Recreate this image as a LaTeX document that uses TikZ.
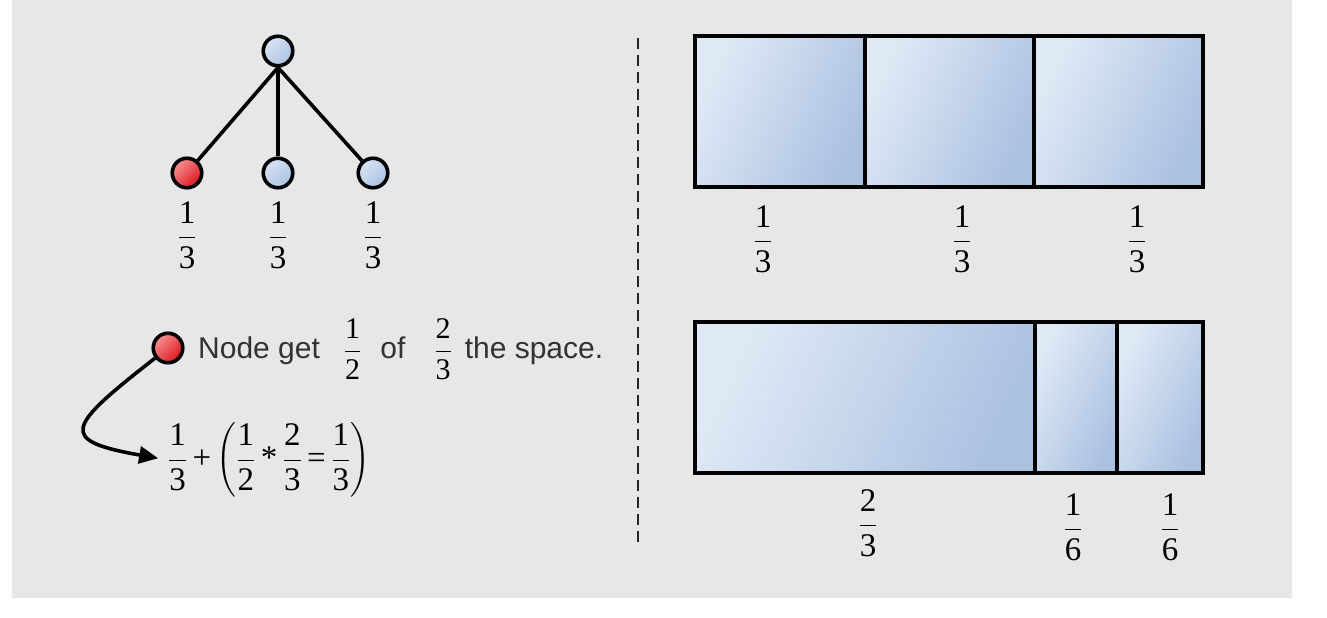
\RequirePackage{fix-cm}
\documentclass[tikz,border=0pt]{standalone}
\usepackage{amsmath}
\usepackage{fontspec}
\setmainfont{Liberation Serif}
\newfontfamily\arialfont{Liberation Sans}
\newfontfamily\timesfont{Liberation Serif}
\usetikzlibrary{arrows.meta, positioning}
\definecolor{panelgray}{RGB}{230,231,233}
\definecolor{celllight}{RGB}{224,234,246}
\definecolor{celldark}{RGB}{170,193,225}
\definecolor{dotlight}{RGB}{216,228,244}
\definecolor{dotdark}{RGB}{172,194,226}
\definecolor{redlight}{RGB}{247,146,146}
\definecolor{reddark}{RGB}{220,22,30}
\definecolor{inkgray}{RGB}{50,50,50}
\newcommand{\fr}[2]{\dfrac{\text{\timesfont #1}}{\text{\timesfont #2}}}
\newcommand{\opplus}{\mathbin{\text{\timesfont +}}}
\newcommand{\opstar}{\mathbin{\text{\timesfont *}}}
\newcommand{\opeq}{\mathrel{\text{\timesfont =}}}

\begin{document}
\begin{tikzpicture}[x=1pt, y=-1pt,
  dot/.style={circle, draw=black, line width=3.6pt, minimum size=29.5pt, inner sep=0pt, top color=dotlight, bottom color=dotdark, shading angle=45},
  reddot/.style={dot, top color=redlight, bottom color=reddark, shading angle=45},
  edge/.style={draw=black, line width=3.6pt},
  link/.style={draw=black, line width=3.6pt, -{Triangle[length=19pt, width=17pt]}},
  cell/.style={draw=black, line width=4.5pt, top color=celllight, bottom color=celldark, shading angle=65},
  frac/.style={font=\fontsize{33}{38}\selectfont, inner sep=0pt, text=black},
  divider/.style={draw=black!85, line width=1.4pt, dash pattern=on 11pt off 6pt}
]
  \useasboundingbox (0,0) rectangle (1327,618);
  \fill[panelgray] (12,0) rectangle (1292,598);

  \node[dot] (root) at (278,51) {};
  \node[reddot] (leafa) at (187,173) {};
  \node[dot] (leafb) at (278,173) {};
  \node[dot] (leafc) at (373,173) {};
  \draw[edge] (root.south) -- (leafa);
  \draw[edge] (root.south) -- (leafb);
  \draw[edge] (root.south) -- (leafc);
  \node[frac] (fa) at (187,235) {$\fr{1}{3}$};
  \node[frac] (fb) at (278,235) {$\fr{1}{3}$};
  \node[frac] (fc) at (373,235) {$\fr{1}{3}$};

  \node[reddot] (pick) at (168,348) {};
  \node[anchor=west, inner sep=0pt, font={\arialfont\fontsize{30}{34}\selectfont}, text=inkgray] (note) at (198,349)
    {Node get\hspace{24pt}{\color{black}$\fr{1}{2}$}\hspace{19pt}of\hspace{29pt}{\color{black}$\fr{2}{3}$}\hspace{13pt}the space.};
  \node[frac, anchor=west] (sum) at (168,460)
    {\medmuskip=3mu \thickmuskip=3mu $\fr{1}{3}\opplus\biggl(\fr{1}{2}\opstar\fr{2}{3}\opeq\fr{1}{3}\biggr)$};
  \draw[link, shorten >=10pt] (pick) to[out=218, in=170, looseness=2.8] (sum.west);

  \draw[divider] (638,38) -- (638,548);

  \draw[cell] (695,36) rectangle (865,187);
  \draw[cell] (865,36) rectangle (1034,187);
  \draw[cell] (1034,36) rectangle (1203,187);
  \node[frac] (ta) at (763,239) {$\fr{1}{3}$};
  \node[frac] (tb) at (962,239) {$\fr{1}{3}$};
  \node[frac] (tc) at (1137,239) {$\fr{1}{3}$};

  \draw[cell] (695,322) rectangle (1035,473);
  \draw[cell] (1035,322) rectangle (1117,473);
  \draw[cell] (1117,322) rectangle (1203,473);
  \node[frac] (ba) at (868,523) {$\fr{2}{3}$};
  \node[frac] (bb) at (1073,527) {$\fr{1}{6}$};
  \node[frac] (bc) at (1170,527) {$\fr{1}{6}$};
\end{tikzpicture}
\end{document}
